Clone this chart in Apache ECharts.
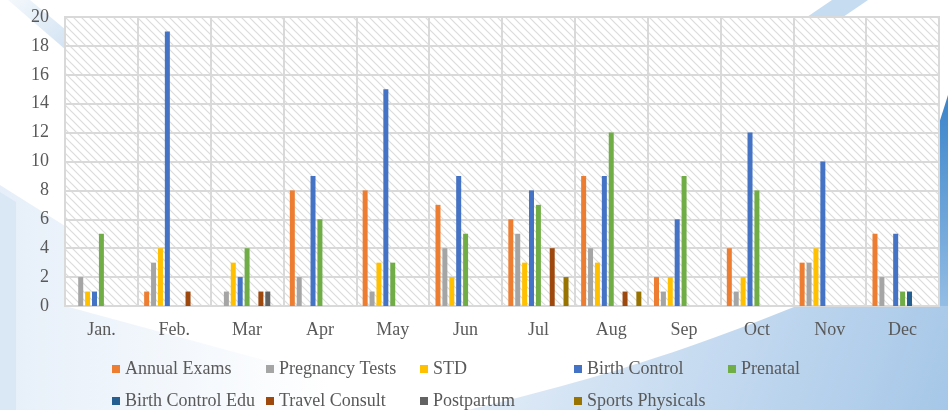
<!DOCTYPE html>
<html>
<head>
<meta charset="utf-8">
<script src="https://cdn.jsdelivr.net/npm/echarts@6/dist/echarts.min.js"></script>
<style>
  html, body { margin: 0; padding: 0; background: #fff; }
  #chart { width: 948px; height: 410px; }
</style>
</head>
<body>
<div id="chart"></div>
<script>
const months = ['Jan.', 'Feb.', 'Mar', 'Apr', 'May', 'Jun', 'Jul', 'Aug', 'Sep', 'Oct', 'Nov', 'Dec'];

const annualExams     = [0, 1, 0, 8, 8, 7, 6, 9, 2, 4, 3, 5];
const pregnancyTests  = [2, 3, 1, 2, 1, 4, 5, 4, 1, 1, 3, 2];
const std             = [1, 4, 3, 0, 3, 2, 3, 3, 2, 2, 4, 0];
const birthControl    = [1, 19, 2, 9, 15, 9, 8, 9, 6, 12, 10, 5];
const prenatal        = [5, 0, 4, 6, 3, 5, 7, 12, 9, 8, 0, 1];
const birthControlEdu = [0, 0, 0, 0, 0, 0, 0, 0, 0, 0, 0, 1];
const travelConsult   = [0, 1, 1, 0, 0, 0, 4, 1, 0, 0, 0, 0];
const postpartum      = [0, 0, 1, 0, 0, 0, 0, 0, 0, 0, 0, 0];
const sportsPhysicals = [0, 0, 0, 0, 0, 0, 2, 1, 0, 0, 0, 0];

const yTicks = [0, 2, 4, 6, 8, 10, 12, 14, 16, 18, 20];

const seriesList = [
  { name: 'Annual Exams', data: annualExams, color: '#ED7D31' },
  { name: 'Pregnancy Tests', data: pregnancyTests, color: '#A5A5A5' },
  { name: 'STD', data: std, color: '#FFC000' },
  { name: 'Birth Control', data: birthControl, color: '#4472C4' },
  { name: 'Prenatal', data: prenatal, color: '#70AD47' },
  { name: 'Birth Control Edu', data: birthControlEdu, color: '#255E91' },
  { name: 'Travel Consult', data: travelConsult, color: '#9E480E' },
  { name: 'Postpartum', data: postpartum, color: '#636363' },
  { name: 'Sports Physicals', data: sportsPhysicals, color: '#997300' },
];

// diagonal hatch for the plot area
const hatch = document.createElement('canvas');
hatch.width = 8;
hatch.height = 8;
const hctx = hatch.getContext('2d');
hctx.fillStyle = '#ffffff';
hctx.fillRect(0, 0, 8, 8);
hctx.strokeStyle = '#dcdcdc';
hctx.lineWidth = 1.2;
hctx.beginPath();
hctx.moveTo(-1, -1); hctx.lineTo(9, 9);
hctx.moveTo(-1, 7); hctx.lineTo(1, 9);
hctx.moveTo(7, -1); hctx.lineTo(9, 1);
hctx.stroke();

// curved edge of the bottom-right swoosh (decoration only)
function curvePoints(p0, p1, p2, p3, n) {
  const pts = [];
  for (let i = 0; i <= n; i++) {
    const t = i / n, u = 1 - t;
    pts.push([
      u * u * u * p0[0] + 3 * u * u * t * p1[0] + 3 * u * t * t * p2[0] + t * t * t * p3[0],
      u * u * u * p0[1] + 3 * u * u * t * p1[1] + 3 * u * t * t * p2[1] + t * t * t * p3[1],
    ]);
  }
  return pts;
}
const swoosh = curvePoints([468, 410], [600, 378], [720, 345], [948, 240], 30).concat([[948, 410]]);

const font = '"Liberation Serif", "DejaVu Serif", serif';

const chart = echarts.init(document.getElementById('chart'));
chart.setOption({
  backgroundColor: '#ffffff',
  animation: false,
  graphic: [
    {
      type: 'polygon', z: -100, silent: true,
      shape: { points: [[0, 185], [65, 226], [65, 306], [330, 378], [330, 410], [0, 410]] },
      style: {
        fill: new echarts.graphic.LinearGradient(0, 0, 1, 0, [
          { offset: 0, color: '#e6eff9' },
          { offset: 1, color: '#ffffff' },
        ]),
      },
    },
    {
      type: 'polygon', z: -99, silent: true,
      shape: { points: [[0, 192], [16, 202], [16, 410], [0, 410]] },
      style: { fill: '#dae8f5' },
    },
    {
      type: 'polygon', z: -99, silent: true,
      shape: { points: [[8, 0], [30, 0], [66, 30], [66, 50]] },
      style: {
        fill: new echarts.graphic.LinearGradient(0, 0, 1, 1, [
          { offset: 0, color: '#f4f8fc' },
          { offset: 1, color: '#d3e3f3' },
        ]),
      },
    },
    {
      type: 'polygon', z: -99, silent: true,
      shape: { points: [[832, 0], [868, 0], [780, 60], [744, 60]] },
      style: { fill: '#c6dcf0' },
    },
    {
      type: 'polygon', z: -98, silent: true,
      shape: { points: swoosh },
      style: {
        fill: new echarts.graphic.LinearGradient(0, 0, 1, 1, [
          { offset: 0, color: '#e8f0f9' },
          { offset: 1, color: '#a6c7e8' },
        ]),
      },
    },
    {
      type: 'polygon', z: -97, silent: true,
      shape: { points: [[948, 95], [937, 130], [937, 306], [948, 306]] },
      style: {
        fill: new echarts.graphic.LinearGradient(0, 0, 0, 1, [
          { offset: 0, color: '#3a84ca' },
          { offset: 1, color: '#94bde4' },
        ]),
      },
    },
  ],
  legend: {
    left: 112,
    top: 353,
    width: 790,
    padding: 0,
    itemGap: 0,
    itemWidth: 8,
    itemHeight: 8,
    icon: 'rect',
    textStyle: {
      fontFamily: font,
      fontSize: 18,
      color: '#595959',
      width: 141,
      lineHeight: 32,
    },
    data: seriesList.map((s) => s.name),
  },
  grid: {
    left: 65,
    right: 9,
    top: 17,
    bottom: 104,
    show: true,
    backgroundColor: { image: hatch, repeat: 'repeat' },
    borderColor: '#d9d9d9',
    borderWidth: 2,
  },
  xAxis: {
    type: 'category',
    data: months,
    axisTick: { show: false },
    axisLine: { lineStyle: { color: '#d9d9d9', width: 2 } },
    axisLabel: { fontFamily: font, fontSize: 18, color: '#595959', margin: 15 },
    splitLine: { show: true, lineStyle: { color: '#d9d9d9', width: 2 } },
  },
  yAxis: {
    type: 'value',
    min: yTicks[0],
    max: yTicks[yTicks.length - 1],
    interval: yTicks[1] - yTicks[0],
    axisLine: { show: false },
    axisTick: { show: false },
    axisLabel: { fontFamily: font, fontSize: 18, color: '#595959', margin: 16 },
    splitLine: { lineStyle: { color: '#d9d9d9', width: 2 } },
  },
  series: seriesList.map((s) => ({
    name: s.name,
    type: 'bar',
    data: s.data,
    barWidth: 5,
    barGap: '38%',
    itemStyle: { color: s.color },
  })),
});
</script>
</body>
</html>
